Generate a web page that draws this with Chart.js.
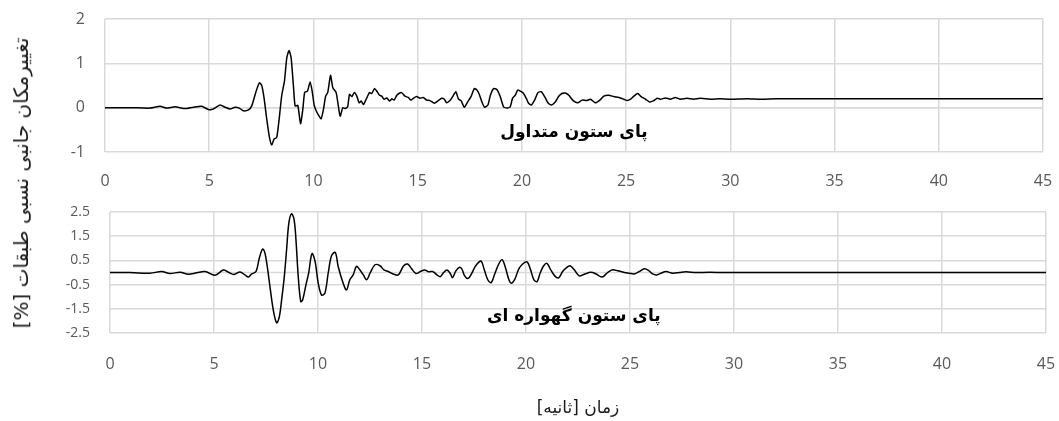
<!DOCTYPE html>
<html>
<head>
<meta charset="utf-8">
<script src="https://cdn.jsdelivr.net/npm/chart.js@4.4.1/dist/chart.umd.min.js"></script>
<style>
  body { margin: 0; background: #fff; width: 1059px; height: 421px; position: relative; overflow: hidden; }
  canvas { position: absolute; left: 0; }
  #topChart { top: 0; }
  #bottomChart { top: 195px; }
  .title { position: absolute; font-family: 'DejaVu Sans'; white-space: nowrap; direction: rtl; color: #1a1a1a; }
  #yTitle { left: 21px; top: 183px; font-size: 20px; transform: translate(-50%, -50%) rotate(-90deg); }
  #xTitle { left: 578px; top: 407px; font-size: 17px; letter-spacing: 3px; transform: translate(-50%, -50%); }
</style>
</head>
<body>
<canvas id="topChart" width="1059" height="195"></canvas>
<canvas id="bottomChart" width="1059" height="226"></canvas>
<div id="yTitle" class="title">تغییرمکان جانبی نسبی طبقات [%]</div>
<div id="xTitle" class="title">زمان [ثانیه]</div>
<script>
// Time axis and tick labels
const xTicks = [0, 5, 10, 15, 20, 25, 30, 35, 40, 45];
const topYTicks = [-1, 0, 1, 2];
const bottomYTicks = [-2.5, -1.5, -0.5, 0.5, 1.5, 2.5];

const topLabel = 'پای ستون متداول';
const bottomLabel = 'پای ستون گهواره ای';

// Conventional column base (top panel)
const topTime = [0, 1.2, 2.16, 2.64, 2.96, 3.36, 3.84, 4.24, 4.64, 4.96, 5.2, 5.52, 5.76, 6.0, 6.24, 6.44, 6.64, 6.88, 7.04,
  7.25, 7.41, 7.52, 7.63, 7.76, 7.89, 8.0, 8.11, 8.24, 8.37, 8.48, 8.61, 8.72, 8.83, 8.93, 9.04, 9.12, 9.25, 9.38, 9.49,
  9.58, 9.71, 9.84, 9.94, 10.03, 10.13, 10.27, 10.37, 10.48, 10.58, 10.69, 10.82, 10.93, 11.09, 11.28, 11.41, 11.52, 11.64,
  11.73, 11.84, 11.96, 12.08, 12.19, 12.29, 12.4, 12.53, 12.69, 12.8, 12.93, 13.04, 13.17, 13.28, 13.39, 13.52, 13.65, 13.76,
  13.87, 14.0, 14.1, 14.23, 14.39, 14.55, 14.68, 14.79, 14.95, 15.11, 15.27, 15.43, 15.59, 15.8, 15.99, 16.15, 16.28, 16.39,
  16.55, 16.68, 16.83, 16.96, 17.08, 17.24, 17.4, 17.56, 17.72, 17.84, 17.95, 18.08, 18.21, 18.37, 18.49, 18.64, 18.8, 18.96,
  19.12, 19.28, 19.44, 19.55, 19.68, 19.81, 19.97, 20.08, 20.21, 20.32, 20.45, 20.61, 20.77, 20.93, 21.09, 21.25, 21.41, 21.6,
  21.76, 21.92, 22.08, 22.25, 22.46, 22.68, 22.89, 23.1, 23.29, 23.53, 23.74, 23.93, 24.17, 24.41, 24.65, 24.89, 25.05, 25.21,
  25.37, 25.56, 25.72, 25.93, 26.13, 26.33, 26.49, 26.65, 26.89, 27.12, 27.36, 27.6, 27.92, 28.24, 28.56, 29.04, 29.5, 30.0,
  30.8, 31.5, 32.2, 33.5, 45];
const topDrift = [0, 0, -0.01, 0.03, -0.01, 0.02, -0.02, 0.01, 0.03, -0.04, -0.03, 0.06, 0.01, -0.03, 0.01, -0.01, -0.07, -0.05, 0.04,
  0.37, 0.56, 0.50, 0.22, -0.26, -0.67, -0.84, -0.71, -0.67, -0.19, 0.28, 0.60, 1.12, 1.29, 1.12, 0.49, 0.04, 0.05, -0.36, -0.04,
  0.35, 0.37, 0.58, 0.37, 0.07, -0.07, -0.19, -0.25, -0.04, 0.25, 0.35, 0.73, 0.45, 0.34, -0.19, 0.0, -0.02, 0.02,
  0.30, 0.25, 0.34, 0.26, 0.11, 0.15, 0.07, 0.19, 0.34, 0.32, 0.43, 0.37, 0.28, 0.26, 0.19, 0.22, 0.15, 0.20,
  0.17, 0.28, 0.32, 0.34, 0.26, 0.23, 0.17, 0.21, 0.25, 0.21, 0.23, 0.17, 0.16, 0.10, 0.16, 0.21, 0.19, 0.11,
  0.16, 0.25, 0.36, 0.19, 0.16, 0.01, 0.13, 0.25, 0.43, 0.40, 0.31, 0.13, 0.01, 0.06, 0.28, 0.43, 0.41, 0.25,
  0.02, -0.01, 0.02, 0.21, 0.28, 0.40, 0.36, 0.32, 0.21, 0.10, 0.06, 0.17, 0.34, 0.36, 0.25, 0.11, 0.06, 0.13,
  0.25, 0.32, 0.33, 0.28, 0.16, 0.11, 0.17, 0.16, 0.19, 0.11, 0.17, 0.26, 0.28, 0.25, 0.23, 0.19, 0.16, 0.19,
  0.26, 0.32, 0.25, 0.19, 0.13, 0.16, 0.21, 0.19, 0.22, 0.19, 0.23, 0.19, 0.21, 0.19, 0.21, 0.19, 0.2, 0.19,
  0.2, 0.19, 0.2, 0.2, 0.2];

// Rocking column base (bottom panel)
const bottomTime = [0, 0.96, 1.92, 2.48, 2.88, 3.37, 3.77, 4.17, 4.57, 5.05, 5.45, 5.69, 5.96, 6.25, 6.49, 6.65, 6.81, 7.02,
  7.18, 7.34, 7.45, 7.56, 7.69, 7.85, 8.01, 8.14, 8.25, 8.38, 8.49, 8.6, 8.73, 8.85, 8.94, 9.05, 9.17, 9.26, 9.42, 9.55,
  9.71, 9.86, 10.01, 10.17, 10.33, 10.49, 10.65, 10.83, 10.97, 11.21, 11.37, 11.53, 11.69, 11.85, 12.01, 12.18, 12.34, 12.5,
  12.74, 12.98, 13.17, 13.38, 13.62, 13.86, 14.12, 14.31, 14.49, 14.71, 14.92, 15.13, 15.32, 15.51, 15.72, 15.88, 16.04, 16.2,
  16.36, 16.47, 16.63, 16.79, 16.92, 17.05, 17.21, 17.37, 17.56, 17.72, 17.85, 18.01, 18.17, 18.33, 18.49, 18.69, 18.85, 19.01,
  19.17, 19.29, 19.46, 19.65, 19.84, 20.05, 20.21, 20.37, 20.53, 20.69, 20.85, 21.01, 21.17, 21.38, 21.57, 21.76, 21.92, 22.12,
  22.32, 22.56, 22.8, 23.12, 23.37, 23.65, 23.93, 24.17, 24.41, 24.73, 24.97, 25.21, 25.45, 25.69, 25.9, 26.09, 26.28, 26.49,
  26.73, 27.05, 27.37, 27.69, 28.17, 28.81, 29.6, 45];
const bottomDrift = [0, 0, -0.03, 0.04, -0.04, 0.01, -0.07, -0.01, 0.04, -0.11, 0.10, 0.01, -0.08, 0.02, -0.10, -0.19, -0.06, 0.04,
  0.60, 0.97, 0.80, 0.25, -0.58, -1.55, -2.08, -1.83, -1.14, -0.17, 0.94, 2.05, 2.42, 2.19, 1.36, -0.17, -1.20, -1.14, -0.51, -0.03,
  0.78, 0.46, -0.44, -0.93, -0.86, -0.03, 0.69, 0.83, 0.25, -0.44, -0.72, -0.30, -0.10, 0.25, 0.11, -0.10, -0.30, -0.03,
  0.32, 0.28, 0.11, 0.04, -0.06, -0.10, 0.28, 0.35, 0.17, -0.04, 0.04, 0.10, 0.03, 0.04, -0.10, -0.17, 0.0, 0.10,
  -0.04, -0.21, 0.07, 0.21, 0.14, -0.14, -0.25, -0.07, 0.25, 0.42, 0.47, 0.07, -0.31, -0.42, -0.07, 0.35, 0.53, 0.21,
  -0.28, -0.44, -0.28, 0.14, 0.35, 0.44, 0.14, -0.28, -0.38, 0.0, 0.28, 0.38, 0.14, -0.14, -0.22, 0.04, 0.18, 0.28,
  0.11, -0.14, -0.07, 0.01, -0.06, -0.19, 0, 0.11, 0.07, 0, -0.03, -0.06, 0.04, 0.15, 0.08, -0.06, -0.10, -0.03,
  0.04, -0.03, 0, 0.03, 0, 0.01, 0, 0];

// Excel style horizontal axis line at zero
const zeroLine = {
  id: 'zeroLine',
  beforeDatasetsDraw(chart) {
    const { ctx, chartArea, scales } = chart;
    const y = scales.y.getPixelForValue(0);
    ctx.save();
    ctx.strokeStyle = '#d9d9d9';
    ctx.lineWidth = 1.5;
    ctx.beginPath();
    ctx.moveTo(chartArea.left, y);
    ctx.lineTo(chartArea.right, y);
    ctx.stroke();
    ctx.restore();
  }
};

// Panel caption drawn inside the plot
const caption = {
  id: 'caption',
  afterDatasetsDraw(chart, args, opts) {
    const { ctx, scales } = chart;
    ctx.save();
    ctx.font = 'bold 17px "DejaVu Sans"';
    ctx.direction = 'rtl';
    ctx.textAlign = 'center';
    ctx.textBaseline = 'middle';
    ctx.fillStyle = '#000';
    ctx.fillText(opts.text, scales.x.getPixelForValue(opts.x), scales.y.getPixelForValue(opts.y));
    ctx.restore();
  }
};

function makePanel(id, times, values, yTicks, yFontSize, box, label) {
  const ctx = document.getElementById(id).getContext('2d');
  return new Chart(ctx, {
    type: 'line',
    data: {
      datasets: [{
        data: times.map((t, i) => ({ x: t, y: values[i] })),
        borderColor: '#000',
        borderWidth: 1.5,
        pointRadius: 0,
        tension: box.tension,
        fill: false
      }]
    },
    options: {
      responsive: false,
      animation: false,
      layout: { padding: { left: 0, top: box.top, right: box.right, bottom: 0 } },
      plugins: {
        legend: { display: false },
        tooltip: { enabled: false },
        caption: label
      },
      scales: {
        x: {
          type: 'linear',
          min: 0,
          max: 45,
          afterBuildTicks: s => { s.ticks = xTicks.map(v => ({ value: v })); },
          afterFit: s => { s.height = box.xHeight; s.paddingLeft = 0; s.paddingRight = 0; },
          grid: { color: '#d9d9d9', lineWidth: 1.5, drawTicks: false },
          border: { display: false },
          ticks: { color: '#595959', padding: box.xPad, maxRotation: 0, font: { family: 'Open Sans', size: 16 } }
        },
        y: {
          min: yTicks[0],
          max: yTicks[yTicks.length - 1],
          afterBuildTicks: s => { s.ticks = yTicks.map(v => ({ value: v })); },
          afterFit: s => { s.width = box.yWidth; s.paddingTop = 0; s.paddingBottom = 0; },
          grid: { color: '#d9d9d9', lineWidth: 1.5, drawTicks: false },
          border: { display: false },
          ticks: { color: '#595959', padding: 20, font: { family: 'Open Sans', size: yFontSize } }
        }
      }
    },
    plugins: [zeroLine, caption]
  });
}

makePanel('topChart', topTime, topDrift, topYTicks, 16,
  { top: 19, right: 16, xHeight: 43, yWidth: 105, xPad: 20, tension: 0.2 },
  { text: topLabel, x: 22.5, y: -0.56 });

makePanel('bottomChart', bottomTime, bottomDrift, bottomYTicks, 14,
  { top: 17, right: 13, xHeight: 88, yWidth: 110, xPad: 22, tension: 0.35 },
  { text: bottomLabel, x: 22.3, y: -1.82 });
</script>
</body>
</html>
